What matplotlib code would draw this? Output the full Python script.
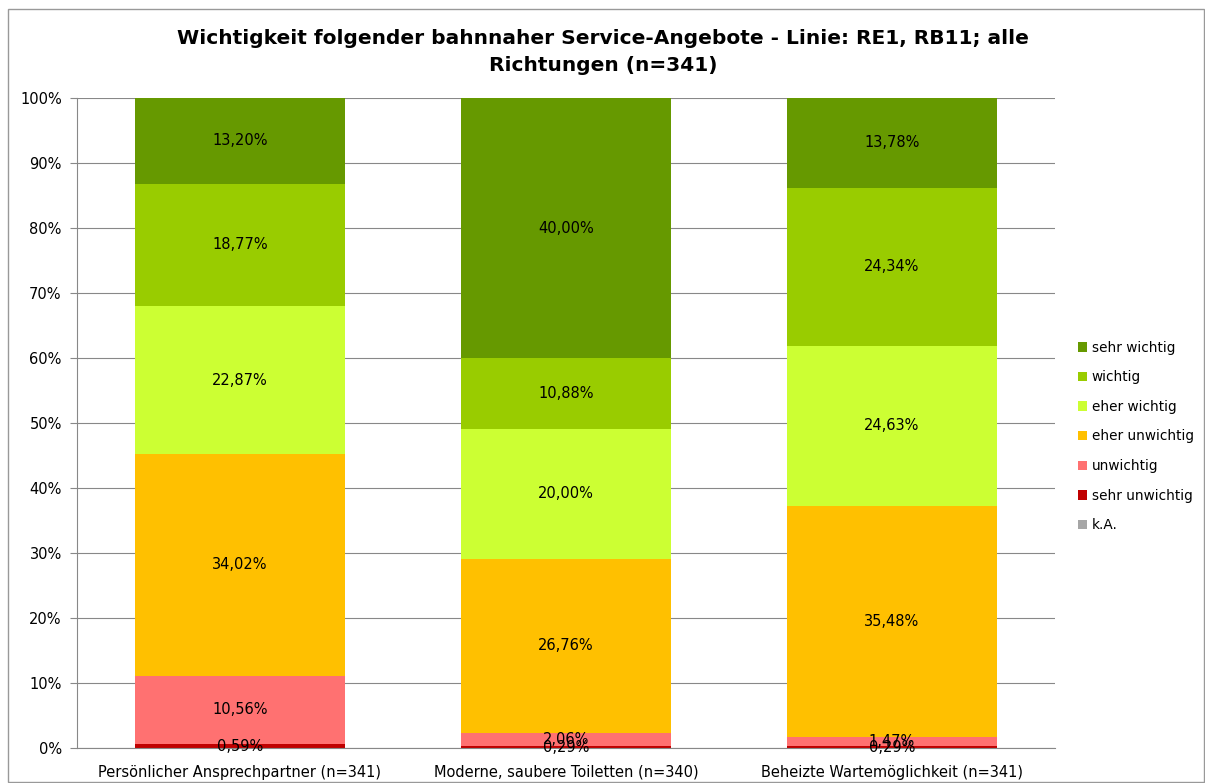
import matplotlib.pyplot as plt
from matplotlib.patches import Rectangle

categories = ["Persönlicher Ansprechpartner (n=341)",
              "Moderne, saubere Toiletten (n=340)",
              "Beheizte Wartemöglichkeit (n=341)"]
series = ["k.A.", "sehr unwichtig", "unwichtig", "eher unwichtig",
          "eher wichtig", "wichtig", "sehr wichtig"]
k_a = [0.0, 0.0, 0.0]
sehr_unwichtig = [0.59, 0.29, 0.29]
unwichtig = [10.56, 2.06, 1.47]
eher_unwichtig = [34.02, 26.76, 35.48]
eher_wichtig = [22.87, 20.00, 24.63]
wichtig = [18.77, 10.88, 24.34]
sehr_wichtig = [13.20, 40.00, 13.78]
values = [k_a, sehr_unwichtig, unwichtig, eher_unwichtig, eher_wichtig, wichtig, sehr_wichtig]
colors = ["#A6A6A6", "#C00000", "#FF7171", "#FFC000", "#CCFF33", "#99CC00", "#669900"]

plt.rcParams['font.family'] = ['DejaVu Sans']

fig = plt.figure(figsize=(12.05, 7.83), dpi=100)
fig.patches.append(Rectangle((8/1205, 1 - 782/783), 1196/1205, 773/783, transform=fig.transFigure,
                             fill=False, edgecolor="#999999", linewidth=1))
ax = fig.add_axes([77/1205, 1 - 748/783, 978/1205, 650/783])

x = range(len(categories))
bottom = [0.0, 0.0, 0.0]
handles = []
for name, vals, col in zip(series, values, colors):
    b = ax.bar(x, vals, bottom=bottom, width=0.645, color=col, label=name, zorder=2)
    handles.append(b)
    for i, v in enumerate(vals):
        if v > 0:
            ax.text(i, bottom[i] + v / 2, ("%.2f%%" % v).replace(".", ","),
                    ha="center", va="center", fontsize=10.5, color="black", zorder=3)
    bottom = [b0 + v for b0, v in zip(bottom, vals)]

ax.set_xlim(-0.5, 2.5)
ax.set_ylim(0, 100)
ax.set_yticks(range(0, 101, 10))
ax.set_yticklabels([f"{t}%" for t in range(0, 101, 10)], fontsize=10.5)
ax.set_xticks(list(x))
ax.set_xticklabels(categories, fontsize=10.5)
ax.yaxis.grid(True, color="#888888", linewidth=0.8, zorder=0)
ax.set_axisbelow(True)
for s in ["top", "right"]:
    ax.spines[s].set_visible(False)
for s in ["left", "bottom"]:
    ax.spines[s].set_color("#888888")
ax.tick_params(axis="y", length=5, color="#888888", direction="out", pad=6)
ax.tick_params(axis="x", length=0, pad=12)

leg_handles = handles[::-1]
leg_labels = series[::-1]
fig.legend(leg_handles, leg_labels, loc="upper left", bbox_to_anchor=(1068/1205, 1 - 331/783),
           frameon=False, fontsize=9.8, handlelength=0.7, handleheight=0.7,
           handletextpad=0.35, labelspacing=1.15, borderpad=0.2)

fig.text(603/1205, 1 - 52/783,
         "Wichtigkeit folgender bahnnaher Service-Angebote - Linie: RE1, RB11; alle\nRichtungen (n=341)",
         ha="center", va="center", fontsize=14.5, fontweight="bold", linespacing=1.5)

fig.savefig("out.png", dpi=100)
